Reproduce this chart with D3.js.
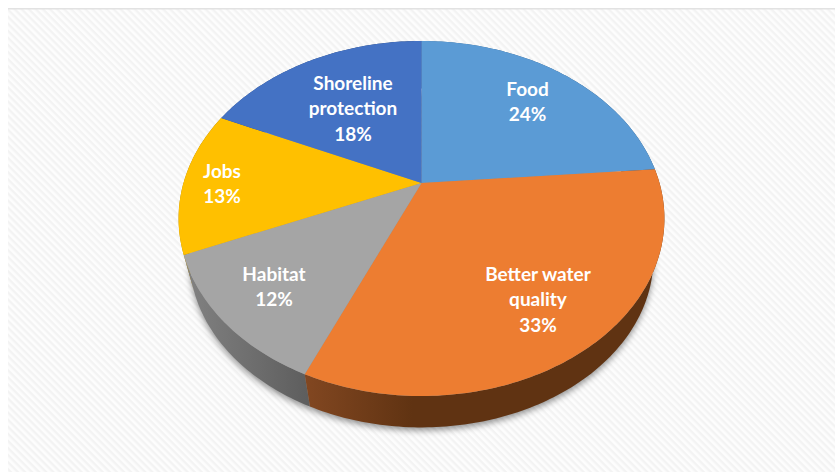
<!DOCTYPE html>
<html>
<head>
<meta charset="utf-8">
<script src="https://cdn.jsdelivr.net/npm/d3@7"></script>
<style>
  html, body { margin: 0; padding: 0; background: #fff; }
  svg { display: block; }
  text { font-family: Lato, "Open Sans", sans-serif; font-weight: 700; fill: #fff; font-size: 19px; }
</style>
</head>
<body>
<div id="chart"></div>
<script>
// Benefit shares shown around the pie, clockwise from twelve o'clock.
const categories = ["Food", "Better water quality", "Habitat", "Jobs", "Shoreline protection"];
const shares = [24, 33, 12, 13, 18];
const labelLines = [["Food"], ["Better water", "quality"], ["Habitat"], ["Jobs"], ["Shoreline", "protection"]];
const topColors = ["#5b9bd5", "#ed7d31", "#a5a5a5", "#ffc000", "#4472c4"];
const wallLight = ["#3a6a96", "#824721", "#828282", "#b08500", "#2f4f88"];
const wallDark = ["#2d5273", "#603312", "#5d5d5d", "#7f6000", "#203864"];
const labelAnchors = [[527.5, 89], [538, 274], [274, 274], [222, 171], [353, 83]];

const width = 835, height = 472;
const svg = d3.select("#chart").append("svg").attr("width", width).attr("height", height);
const defs = svg.append("defs");

// Fine diagonal hatching on the chart area.
const hatch = defs.append("pattern").attr("id", "hatch")
  .attr("width", 5).attr("height", 5)
  .attr("patternUnits", "userSpaceOnUse")
  .attr("patternTransform", "rotate(45)");
hatch.append("rect").attr("width", 5).attr("height", 5).attr("fill", "#fdfdfd");
hatch.append("rect").attr("width", 5).attr("height", 2.4).attr("fill", "#f3f3f3");

defs.append("filter").attr("id", "soft")
  .attr("x", "-10%").attr("y", "-10%").attr("width", "120%").attr("height", "120%")
  .append("feGaussianBlur").attr("stdDeviation", 3);

svg.append("rect").attr("x", 8).attr("y", 9).attr("width", width - 8).attr("height", height - 9)
  .attr("fill", "url(#hatch)");
svg.append("rect").attr("x", 8).attr("y", 8).attr("width", width - 8).attr("height", 1.5)
  .attr("fill", "#e2e2e2");

// Perspective projection of the unit disc: the near edge is stretched
// so the hub sits above the centre of the drawn ellipse. A slight angular
// skew, zero at twelve o'clock, accounts for the camera's rotation.
const tilt = -0.2, skew = 0.028;
const project = (angle, scale, hubY) => {
  const t = angle - skew * Math.sin(angle / 2);
  const u = Math.sin(t), v = -Math.cos(t);
  const w = 1 + tilt * v;
  return [421.5 + scale * 238 * u / w, hubY + scale * 170.4 * v / w];
};
const topHubY = 183, baseHubY = 224, baseScale = 0.955;

const arcs = d3.pie().sort(null).value(d => d)(shares);
const sweep = (a0, a1, scale, hubY) => {
  const n = Math.max(2, Math.ceil((a1 - a0) * 60));
  return d3.range(n + 1).map(i => project(a0 + (a1 - a0) * i / n, scale, hubY));
};
const line = d3.line();

// Soft shadow cast by the base of the disc.
svg.append("path")
  .attr("d", line(sweep(0, 2 * Math.PI, baseScale, baseHubY)) + "Z")
  .attr("transform", "translate(0,3)")
  .attr("fill", "#000").attr("fill-opacity", 0.42)
  .attr("filter", "url(#soft)");

// Side walls, far slices first, each shaded from its left end to its right.
arcs.forEach(a => {
  const g = defs.append("linearGradient").attr("id", "wall" + a.index);
  g.append("stop").attr("offset", 0).attr("stop-color", wallLight[a.index]);
  g.append("stop").attr("offset", a.index === 1 ? 0.3 : 1).attr("stop-color", wallDark[a.index]);
});
const farness = a => Math.abs((a.startAngle + a.endAngle) / 2 - Math.PI);
const farFirst = arcs.slice().sort((a, b) => farness(b) - farness(a));
svg.append("g").selectAll("path").data(farFirst).join("path")
  .attr("fill", d => `url(#wall${d.index})`)
  .attr("d", d => line([
    ...sweep(d.startAngle, d.endAngle, 1, topHubY),
    ...sweep(d.startAngle, d.endAngle, baseScale, baseHubY).reverse()
  ]) + "Z");

// Top face of the disc.
svg.append("g").selectAll("path").data(arcs).join("path")
  .attr("fill", d => topColors[d.index])
  .attr("d", d => line([[421.5, topHubY], ...sweep(d.startAngle, d.endAngle, 1, topHubY)]) + "Z");

// Category name and percentage on each slice.
const labels = svg.append("g").attr("text-anchor", "middle").selectAll("text").data(arcs).join("text")
  .attr("transform", d => `translate(${labelAnchors[d.index][0]},${labelAnchors[d.index][1]})`);
labels.each(function (d) {
  const t = d3.select(this);
  [...labelLines[d.index], shares[d.index] + "%"].forEach((s, k) => {
    t.append("tspan").attr("x", 0).attr("y", k * 25.7).attr("dy", "0.35em").text(s);
  });
});
</script>
</body>
</html>
